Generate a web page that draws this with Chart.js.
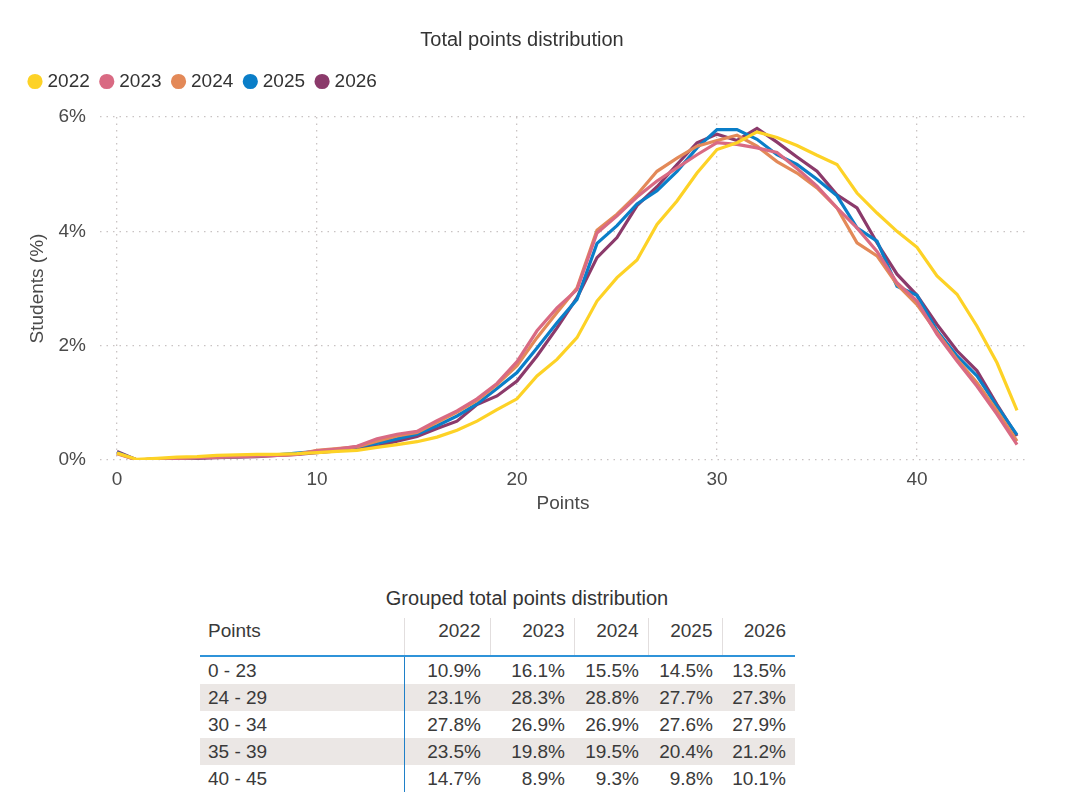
<!DOCTYPE html>
<html>
<head>
<meta charset="utf-8">
<title>Total points distribution</title>
<script src="https://cdn.jsdelivr.net/npm/chart.js@4.4.1/dist/chart.umd.min.js"></script>
<style>
  html, body { margin: 0; padding: 0; background: #fff; }
  body { width: 1080px; height: 795px; position: relative; overflow: hidden;
         font-family: "Liberation Sans", Arial, sans-serif; color: #333; }
  #chartBox { position: absolute; left: 0; top: 0; width: 1080px; height: 530px; }
  #tableTitle { position: absolute; left: 0; width: 1054px; top: 587px; text-align: center; font-size: 20px; color: #333; }
  #grouped { position: absolute; left: 200px; top: 618px; width: 595px; border-collapse: collapse; table-layout: fixed; font-size: 19px; color: #3a3a3a; }
  #grouped th { font-weight: normal; text-align: right; height: 38px; padding: 0 9px 13px 0; box-sizing: border-box;
                border-left: 1px solid #e2dede; border-bottom: 2px solid #2f93d9; vertical-align: bottom; }
  #grouped th:first-child { text-align: left; padding-left: 8px; border-left: none; }
  #grouped td { text-align: right; height: 27px; padding: 0 9px 0 0; line-height: 27px; white-space: nowrap; }
  #grouped td:first-child { text-align: left; padding-left: 8px; }
  #grouped td:nth-child(2) { border-left: 1.5px solid #1f80c8; }
  #grouped tr.shade td { background: #ebe7e5; }
</style>
</head>
<body>
<div id="chartBox"><canvas id="distChart" width="1080" height="530"></canvas></div>
<div id="tableTitle">Grouped total points distribution</div>
<table id="grouped">
  <colgroup>
    <col style="width:204px"><col style="width:86px"><col style="width:84px"><col style="width:74px"><col style="width:74px"><col style="width:73px">
  </colgroup>
  <thead><tr id="headRow"></tr></thead>
  <tbody id="bodyRows"></tbody>
</table>
<script>
// x categories (points) and tick positions
const points = [0, 1, 2, 3, 4, 5, 6, 7, 8, 9, 10, 11, 12, 13, 14, 15, 16, 17, 18, 19, 20, 21, 22,
                23, 24, 25, 26, 27, 28, 29, 30, 31, 32, 33, 34, 35, 36, 37, 38, 39, 40, 41, 42, 43, 44, 45];
const xTicks = [0, 10, 20, 30, 40];
const yTicks = [0, 2, 4, 6];

const years = ['2022', '2023', '2024', '2025', '2026'];
const colors = ['#FDD226', '#D96A83', '#E38958', '#0A7EC8', '#8B3A6B'];

// share of students per total points (%)
const s2022 = [0.12, 0.01, 0.03, 0.05, 0.06, 0.08, 0.09, 0.10, 0.10, 0.11, 0.13, 0.15, 0.17, 0.22, 0.27, 0.32,
               0.40, 0.52, 0.68, 0.88, 1.07, 1.47, 1.76, 2.14, 2.78, 3.19, 3.50, 4.12, 4.53, 5.02, 5.43, 5.55,
               5.74, 5.64, 5.50, 5.33, 5.17, 4.67, 4.32, 4.00, 3.72, 3.22, 2.90, 2.34, 1.70, 0.87];
const s2023 = [0.12, 0.00, 0.02, 0.03, 0.04, 0.05, 0.06, 0.07, 0.08, 0.10, 0.16, 0.19, 0.24, 0.37, 0.45, 0.50,
               0.69, 0.86, 1.07, 1.34, 1.72, 2.26, 2.66, 2.98, 3.97, 4.27, 4.60, 4.88, 5.11, 5.34, 5.55, 5.52,
               5.46, 5.38, 5.10, 4.79, 4.41, 4.06, 3.65, 3.10, 2.78, 2.20, 1.73, 1.29, 0.80, 0.27];
const s2024 = [0.11, 0.00, 0.02, 0.03, 0.04, 0.05, 0.06, 0.07, 0.08, 0.10, 0.17, 0.20, 0.23, 0.33, 0.42, 0.48,
               0.66, 0.84, 1.04, 1.32, 1.65, 2.14, 2.58, 3.01, 4.02, 4.30, 4.64, 5.05, 5.28, 5.49, 5.59, 5.68,
               5.49, 5.22, 5.02, 4.76, 4.41, 3.80, 3.57, 3.07, 2.72, 2.23, 1.76, 1.35, 0.86, 0.33];
const s2025 = [0.13, 0.00, 0.02, 0.03, 0.04, 0.05, 0.06, 0.07, 0.09, 0.12, 0.15, 0.18, 0.23, 0.29, 0.37, 0.45,
               0.60, 0.77, 0.98, 1.25, 1.53, 1.96, 2.40, 2.81, 3.79, 4.10, 4.48, 4.71, 5.05, 5.46, 5.78, 5.78,
               5.61, 5.34, 5.17, 4.91, 4.62, 4.06, 3.83, 3.04, 2.88, 2.26, 1.82, 1.47, 0.94, 0.44];
const s2026 = [0.15, 0.00, 0.01, 0.02, 0.03, 0.04, 0.05, 0.06, 0.08, 0.10, 0.13, 0.16, 0.21, 0.24, 0.33, 0.41,
               0.55, 0.68, 0.97, 1.12, 1.38, 1.82, 2.31, 2.84, 3.54, 3.89, 4.45, 4.78, 5.17, 5.55, 5.70, 5.59,
               5.80, 5.56, 5.30, 5.05, 4.64, 4.41, 3.80, 3.25, 2.88, 2.37, 1.91, 1.56, 0.97, 0.42];

// grouped table
const groupLabels = ['0 - 23', '24 - 29', '30 - 34', '35 - 39', '40 - 45'];
const g2022 = [10.9, 23.1, 27.8, 23.5, 14.7];
const g2023 = [16.1, 28.3, 26.9, 19.8, 8.9];
const g2024 = [15.5, 28.8, 26.9, 19.5, 9.3];
const g2025 = [14.5, 27.7, 27.6, 20.4, 9.8];
const g2026 = [13.5, 27.3, 27.9, 21.2, 10.1];

const fontFamily = '"Liberation Sans", Arial, sans-serif';

function buildTable() {
    const head = document.getElementById('headRow');
    head.innerHTML = '<th>Points</th>' + years.map(y => '<th>' + y + '</th>').join('');
    const cols = [g2022, g2023, g2024, g2025, g2026];
    const body = document.getElementById('bodyRows');
    groupLabels.forEach((label, i) => {
        const tr = document.createElement('tr');
        if (i % 2 === 1) tr.className = 'shade';
        tr.innerHTML = '<td>' + label + '</td>' + cols.map(c => '<td>' + c[i].toFixed(1) + '%</td>').join('');
        body.appendChild(tr);
    });
}

// a little extra room under the legend
const legendGap = {
    id: 'legendGap',
    beforeInit(chart) {
        const fit = chart.legend.fit;
        chart.legend.fit = function () {
            fit.bind(chart.legend)();
            this.height += 16;
        };
    }
};

function drawChart() {
    const series = [s2022, s2023, s2024, s2025, s2026];
    const datasets = series.map((s, k) => ({
        label: years[k],
        data: s.map((v, i) => ({ x: points[i], y: v })),
        borderColor: colors[k],
        backgroundColor: colors[k],
        borderWidth: 3.2,
        pointRadius: 0,
        pointStyle: 'circle',
        tension: 0
    }));

    new Chart(document.getElementById('distChart'), {
        type: 'line',
        data: { datasets: datasets },
        plugins: [legendGap],
        options: {
            responsive: false,
            animation: false,
            layout: { padding: { left: 18, right: 54, top: 0, bottom: 0 } },
            plugins: {
                title: {
                    display: true,
                    text: 'Total points distribution',
                    color: '#333',
                    font: { family: fontFamily, size: 20, weight: 'normal' },
                    padding: { top: 28, bottom: 6 }
                },
                legend: {
                    align: 'start',
                    labels: {
                        usePointStyle: true,
                        boxWidth: 6,
                        boxHeight: 8.5,
                        padding: 14,
                        color: '#333',
                        font: { family: fontFamily, size: 19 }
                    }
                },
                tooltip: { enabled: false }
            },
            scales: {
                x: {
                    type: 'linear',
                    min: -0.85,
                    max: 45.45,
                    afterBuildTicks: scale => { scale.ticks = xTicks.map(v => ({ value: v })); },
                    afterFit: scale => { scale.height = 70; },
                    grid: { color: '#c9c3c3', lineWidth: 1.3, drawTicks: false },
                    border: { display: false, dash: [1.5, 5] },
                    ticks: { padding: 8, color: '#4a4a4a', font: { family: fontFamily, size: 19 } },
                    title: {
                        display: true, text: 'Points', color: '#4a4a4a',
                        font: { family: fontFamily, size: 19 },
                        padding: { top: 0, bottom: 15 }
                    }
                },
                y: {
                    min: 0,
                    max: 6,
                    afterBuildTicks: scale => { scale.ticks = yTicks.map(v => ({ value: v })); },
                    afterFit: scale => { scale.width = 82; },
                    grid: { color: '#c9c3c3', lineWidth: 1.3, drawTicks: false },
                    border: { display: false, dash: [1.5, 5] },
                    ticks: {
                        padding: 14, color: '#4a4a4a',
                        font: { family: fontFamily, size: 19 },
                        callback: v => v + '%'
                    },
                    title: {
                        display: true, text: 'Students (%)', color: '#4a4a4a',
                        font: { family: fontFamily, size: 19 },
                        padding: { top: 8, bottom: 8 }
                    }
                }
            }
        }
    });
}

document.addEventListener('DOMContentLoaded', () => {
    buildTable();
    drawChart();
});
</script>
</body>
</html>
